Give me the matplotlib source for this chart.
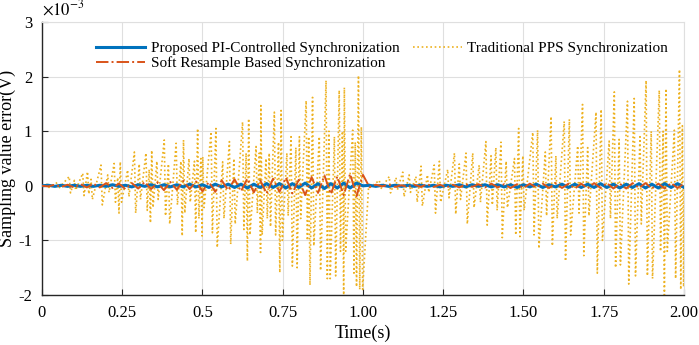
import numpy as np
import matplotlib.pyplot as plt

plt.rcParams['font.family'] = ['Liberation Serif', 'DejaVu Serif']
plt.rcParams['mathtext.fontset'] = 'stix'
plt.rcParams['axes.unicode_minus'] = False

# ------------------------------------------------
# Data (values in units of 1e-3 V)
# ------------------------------------------------
# Traditional PPS: spike times, upper and lower extremes
pps_t = [0.02, 0.05, 0.087, 0.103, 0.129, 0.144, 0.155, 0.186, 0.207, 0.227,
         0.238, 0.246, 0.269, 0.29, 0.305, 0.326, 0.336, 0.344, 0.36, 0.383,
         0.396, 0.42, 0.435, 0.443, 0.46, 0.477, 0.487, 0.497, 0.503, 0.529,
         0.544, 0.565, 0.586, 0.6, 0.627, 0.638, 0.646, 0.669, 0.679, 0.684,
         0.70, 0.71, 0.726, 0.739, 0.747, 0.765, 0.778, 0.793, 0.804, 0.825,
         0.833, 0.845, 0.866, 0.887, 0.896, 0.913, 0.928, 0.938, 0.944, 0.97,
         0.978, 0.988, 0.997,
         1.02, 1.053, 1.084, 1.105, 1.126, 1.146, 1.167, 1.183, 1.203, 1.224,
         1.24, 1.266, 1.287, 1.302, 1.323, 1.344, 1.364, 1.385, 1.401, 1.416,
         1.432, 1.448, 1.474, 1.487, 1.5, 1.531, 1.546, 1.57, 1.588, 1.603,
         1.629, 1.645, 1.671, 1.686, 1.702, 1.728, 1.744, 1.769, 1.785, 1.8,
         1.826, 1.847, 1.865, 1.884, 1.9, 1.925, 1.937, 1.946, 1.972, 1.988,
         1.997]
pps_up = [0.03, 0.06, 0.17, 0.10, 0.23, 0.26, 0.12, 0.38, 0.20, 0.41,
          0.15, 0.44, 0.29, 0.62, 0.40, 0.60, 0.30, 0.65, 0.45, 0.84,
          0.40, 0.78, 0.45, 0.84, 0.50, 0.45, 1.05, 0.50, 0.53, 0.99,
          1.05, 0.44, 0.81, 0.50, 1.17, 0.60, 1.23, 0.72, 0.60, 1.47,
          0.50, 0.60, 1.35, 0.80, 1.38, 0.60, 0.90, 0.70, 0.90, 1.56,
          0.90, 1.62, 0.90, 1.93, 1.00, 0.90, 1.75, 1.00, 1.80, 1.02,
          0.80, 2.02, 1.08,
          0.03, 0.10, 0.17, 0.15, 0.25, 0.20, 0.17, 0.36, 0.20, 0.38,
          0.45, 0.30, 0.60, 0.40, 0.60, 0.60, 0.38, 0.81, 0.55, 0.70,
          0.80, 0.45, 0.50, 1.05, 0.55, 0.98, 1.02, 0.62, 1.27, 0.55,
          1.18, 1.22, 0.73, 1.49, 0.70, 1.35, 1.40, 0.82, 1.72, 0.85,
          1.55, 1.60, 0.90, 1.93, 1.00, 1.75, 1.00, 1.78, 1.02, 2.13,
          1.10]
pps_dn = [-0.03, -0.05, -0.13, -0.08, -0.18, -0.15, -0.25, -0.35, -0.12, -0.30,
          -0.50, -0.30, -0.20, -0.50, -0.25, -0.45, -0.68, -0.40, -0.25, -0.55,
          -0.70, -0.35, -0.92, -0.50, -0.30, -0.86, -0.60, -0.92, -0.40, -0.86,
          -1.13, -0.60, -1.07, -0.70, -0.80, -1.38, -0.90, -0.50, -1.22, -0.90,
          -0.60, -0.75, -0.90, -1.59, -1.00, -0.55, -1.47, -1.50, -0.60, -1.00,
          -1.82, -1.10, -1.55, -1.70, -1.70, -1.65, -1.20, -2.00, -1.20, -1.60,
          -1.85, -1.90, -1.90,
          -0.03, -0.06, -0.13, -0.08, -0.20, -0.12, -0.30, -0.37, -0.12, -0.50,
          -0.30, -0.22, -0.52, -0.25, -0.70, -0.40, -0.30, -0.72, -0.35, -0.45,
          -0.95, -0.40, -0.90, -0.93, -0.45, -0.90, -1.15, -0.55, -1.10, -0.60,
          -1.38, -0.90, -0.50, -1.28, -0.55, -1.60, -1.00, -0.60, -1.50, -1.45,
          -1.80, -1.65, -0.70, -1.65, -1.70, -1.20, -2.00, -1.20, -1.70, -1.90,
          -1.85]

# Proposed PI-controlled and soft resample errors, sampled every 0.02 s
t_small = np.round(np.arange(101) * 0.02, 2)
pi_err = [0.0, 0.01, -0.01, 0.01, -0.01, 0.01, -0.01, 0.01, -0.01, 0.01,
          -0.01, 0.02, -0.01, 0.01, -0.02, 0.02, -0.01, 0.02, -0.02, 0.02,
          -0.02, 0.02, -0.02, 0.03, -0.02, 0.02, -0.03, 0.03, -0.02, 0.03,
          -0.03, 0.03, -0.04, 0.03, -0.03, 0.04, -0.03, 0.04, -0.04, 0.04,
          -0.03, 0.05, -0.04, 0.04, -0.05, 0.04, -0.04, 0.05, -0.04, 0.05,
          0.0, 0.01, -0.01, 0.01, -0.01, 0.01, -0.01, 0.01, -0.01, 0.01,
          -0.01, 0.01, -0.02, 0.01, -0.01, 0.02, -0.02, 0.02, -0.01, 0.02,
          -0.02, 0.02, -0.02, 0.02, -0.03, 0.02, -0.02, 0.03, -0.03, 0.02,
          -0.02, 0.03, -0.03, 0.03, -0.03, 0.03, -0.03, 0.04, -0.03, 0.03,
          -0.04, 0.03, -0.03, 0.04, -0.04, 0.03, -0.04, 0.04, -0.03, 0.04,
          -0.03]
soft_err = [0.0, -0.01, 0.02, -0.02, 0.02, -0.03, 0.03, -0.03, 0.04, -0.03,
            0.05, -0.04, 0.04, -0.06, 0.05, -0.05, 0.07, -0.06, 0.06, -0.08,
            0.07, -0.07, 0.09, -0.06, 0.08, -0.10, 0.07, -0.11, 0.10, -0.08,
            0.12, -0.10, 0.13, -0.12, 0.10, -0.14, 0.13, -0.11, 0.15, -0.14,
            0.11, -0.17, 0.16, -0.13, 0.19, -0.15, 0.17, -0.17, 0.22, -0.19,
            0.20, -0.02, 0.02, -0.01, 0.02, -0.02, 0.01, -0.02, 0.02, -0.02,
            0.03, -0.02, 0.02, -0.03, 0.02, -0.03, 0.03, -0.02, 0.03, -0.03,
            0.04, -0.03, 0.03, -0.04, 0.03, -0.04, 0.04, -0.03, 0.04, -0.04,
            0.05, -0.04, 0.04, -0.05, 0.04, -0.05, 0.05, -0.04, 0.05, -0.05,
            0.04, -0.05, 0.05, -0.04, 0.05, -0.05, 0.04, -0.05, 0.05, -0.04,
            0.04]

x_ticks = [0, 0.25, 0.5, 0.75, 1.0, 1.25, 1.5, 1.75, 2.0]
x_tick_labels = ['0', '0.25', '0.5', '0.75', '1.00', '1.25', '1.50', '1.75', '2.00']
y_ticks = [-2, -1, 0, 1, 2, 3]

# ------------------------------------------------
# Build the PPS polyline (each spike drawn as a near-vertical stroke)
# ------------------------------------------------
pps_x, pps_y = [0.0], [0.0]
for t, up, dn in zip(pps_t, pps_up, pps_dn):
    pps_x += [t - 0.002, t + 0.002]
    pps_y += [up, dn]
pps_x.append(2.0)
pps_y.append(0.0)

# ------------------------------------------------
# Plot
# ------------------------------------------------
fig = plt.figure(figsize=(6.99, 3.45), dpi=100)
ax = fig.add_axes([0.060, 0.145, 0.9185, 0.791])

h_pps, = ax.plot(pps_x, pps_y, linestyle=(0, (1, 1.6)), color='#EDB120', linewidth=1.2,
                 zorder=2, label='Traditional PPS Synchronization')
h_pi, = ax.plot(t_small, pi_err, linestyle='-', color='#0072BD', linewidth=2.2,
                zorder=3, label='Proposed PI-Controlled Synchronization')
h_soft, = ax.plot(t_small, soft_err, linestyle='-.', color='#D95319', linewidth=1.4,
                  zorder=4, label='Soft Resample Based Synchronization')

ax.set_xlim(0, 2)
ax.set_ylim(-2, 3)
ax.set_xticks(x_ticks)
ax.set_xticklabels(x_tick_labels)
ax.set_yticks(y_ticks)
ax.tick_params(direction='in', labelsize=12, length=4, color='#262626', pad=7)
ax.grid(True, color='#DFDFDF', linewidth=0.8)
ax.set_axisbelow(True)
for side in ['top', 'right']:
    ax.spines[side].set_color('#DFDFDF')
for side in ['left', 'bottom']:
    ax.spines[side].set_color('#262626')
    ax.spines[side].set_linewidth(1.0)

ax.set_xlabel('Time(s)', fontsize=13, labelpad=3)
ax.set_ylabel('Sampling value error(V)', fontsize=13)
ax.yaxis.set_label_coords(-0.040, 0.5)
ax.text(0.0, 1.01, r'$\times10^{-3}$', transform=ax.transAxes, fontsize=12,
        ha='left', va='bottom')

ax.legend(handles=[h_pi, h_soft, h_pps], ncol=2, frameon=False, fontsize=11,
          loc='upper center', bbox_to_anchor=(0.53, 0.98), handlelength=3.2,
          columnspacing=0.9, handletextpad=0.35, labelspacing=0.1)

fig.savefig('out.png', dpi=100)
